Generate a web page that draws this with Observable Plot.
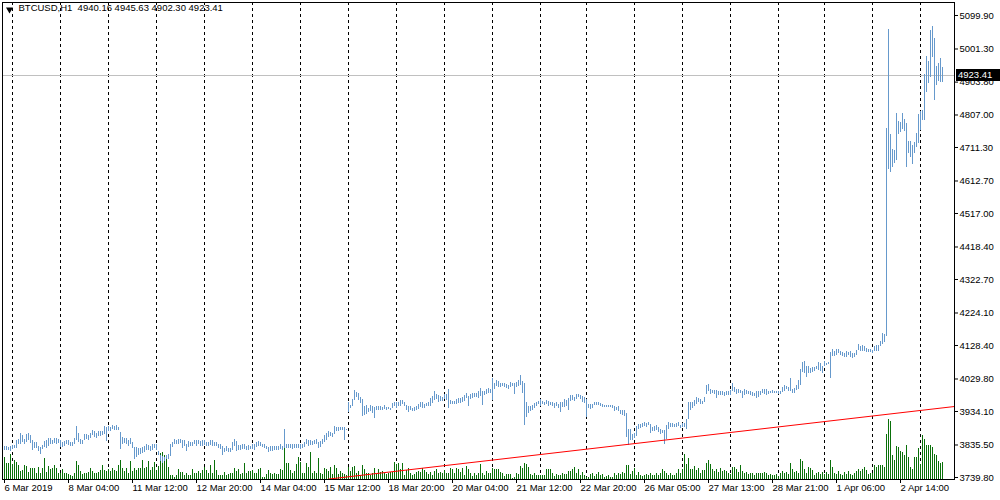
<!DOCTYPE html>
<html><head><meta charset="utf-8">
<script src="https://cdn.jsdelivr.net/npm/d3@7"></script>
<script src="https://cdn.jsdelivr.net/npm/@observablehq/plot@0.6"></script>
<style>html,body{margin:0;padding:0;background:#fff;overflow:hidden}#chart{width:1000px;height:500px}</style>
</head><body><div id="chart"></div>
<script>
// ---------------- data ----------------
const symbol = "BTCUSD,H1";
const lastBar = {open: 4940.16, high: 4945.63, low: 4902.30, close: 4923.41};

// trading days shown and number of H1 bars in each (weekends absent)
const days = [["6 Mar",4],["7 Mar",24],["8 Mar",24],["11 Mar",24],["12 Mar",24],["13 Mar",24],["14 Mar",24],["15 Mar",24],
  ["18 Mar",24],["19 Mar",24],["20 Mar",24],["21 Mar",24],["22 Mar",23],["25 Mar",24],["26 Mar",24],["27 Mar",24],
  ["28 Mar",24],["29 Mar",23],["1 Apr",24],["2 Apr",24],["3 Apr",12]];

const high = [
3830,3830,3828,3832,
3834,3834,3850,3852,3868,3864,3852,3866,3870,3862,3850,3842,3842,3830,3828,3834,3846,3848,3854,3856,3848,3854,3854,3852,
3848,3844,3846,3850,3848,3842,3844,3854,3890,3870,3852,3850,3866,3866,3862,3868,3878,3874,3870,3874,3876,3876,3890,3886,
3890,3886,3892,3890,3892,3888,3872,3858,3856,3856,3848,3856,3842,3828,3828,3826,3824,3828,3830,3836,3834,3832,3836,3838,
3838,3816,3806,3802,3800,3806,3808,3838,3842,3852,3850,3852,3852,3848,3848,3838,3846,3842,3844,3848,3848,3848,3846,3848,
3848,3842,3844,3848,3848,3842,3844,3838,3836,3830,3824,3830,3826,
3826,3842,3852,3846,3834,3834,3836,3838,3832,3834,
3832,3836,3836,3844,3846,3844,3838,3836,3832,3828,
3830,3832,3830,3832,3832,3836,3832,3882,3838,3836,
3838,3836,3836,3836,3838,3838,3836,3842,3852,3848,
3848,3846,3850,3852,3842,3846,3852,3862,3870,3876,
3872,3868,3890,3886,3886,3888,3886,3888,3882,3962,
3952,3968,3996,3990,3986,3974,3970,3948,3952,3944,
3952,3950,3946,3948,3948,3948,3946,3952,3946,3946,
3944,3958,3962,3960,3962,3966,3966,3960,3952,3948,
3948,3944,3946,3948,3954,3962,3960,3954,3958,3962,
3972,3978,3992,3984,3982,3978,3976,3984,3984,4000,
3966,3964,3964,3968,
3972,3972,3976,3982,3988,3978,3984,3988,3988,3988,
3992,4002,3994,3994,3998,4002,3998,4030,4018,4026,
4022,4018,4018,4018,4014,4012,4020,4018,4018,4020,
4024,4040,4022,4018,3960,3950,3948,3952,3958,3962,
3964,3968,3964,3962,3966,3964,3962,3962,3958,3960,
3956,3962,3962,3968,3966,3972,3982,3980,3976,3984,
3984,3982,3978,3974,3970,3954,3954,3956,3962,3960,
3960,3958,3956,3952,3952,3952,3952,3952,3950,3946,
3948,3938,3936,3936,3928,3880,3882,3866,3870,3890,
3896,3896,3898,3902,3900,3902,3896,3888,3890,3892,
3886,3880,3878,3878,3892,3902,3898,3900,3896,3900,
3902,3894,3898,3900,
3912,3960,3962,3962,3966,3974,3972,3968,3964,3974,
4012,4014,4000,3996,3996,3996,3994,3992,3994,3990,
3994,3992,3996,4018,4006,4000,4000,3996,3992,3998,
3996,3994,3992,3990,3988,3992,3992,3994,3998,4000,
3998,3994,3994,3996,3994,3994,3992,3994,4006,4010,
4008,4006,4032,3998,4002,4010,4024,4058,4078,4082,
4068,4066,4062,4064,4064,4066,4078,4076,4066,4080,
4076,4078,4108,4118,4112,4116,4118,4110,4108,4106,
4110,4108,4110,4106,4106,4114,4130,4126,4128,4126,
4120,4118,4116,4114,4126,4128,4128,4140,4164,4162,
4766,
5058,4751,4706,4702,4810,4789,4785,4810,4795,4781,
4730,4728,4718,4726,4753,4808,4818,4820,4926,4979,
4965,5056,5067,5032,4950,4958,4973,4945.63];

const low = [
3818,3820,3818,3816,
3822,3824,3826,3836,3838,3842,3838,3844,3848,3840,3820,3826,3824,3816,3808,3822,3828,3824,3830,3838,3836,3840,3838,3840,
3828,3828,3830,3836,3834,3830,3832,3836,3848,3844,3836,3836,3848,3852,3848,3854,3862,3858,3856,3860,3860,3864,3866,3846,
3876,3876,3880,3878,3878,3878,3822,3838,3840,3836,3830,3836,3826,3794,3798,3804,3808,3810,3812,3818,3818,3816,3818,3826,
3818,3804,3788,3782,3786,3792,3792,3802,3828,3836,3838,3838,3840,3826,3832,3816,3828,3830,3832,3836,3830,3836,3832,3830,
3834,3832,3832,3834,3832,3832,3830,3826,3822,3804,3812,3816,3812,
3812,3818,3832,3816,3818,3820,3822,3822,3818,3820,
3822,3822,3820,3828,3832,3830,3828,3826,3822,3814,
3816,3816,3818,3820,3818,3822,3818,3824,3824,3824,
3826,3822,3826,3824,3824,3822,3826,3828,3836,3832,
3834,3834,3836,3838,3826,3828,3836,3844,3850,3858,
3860,3858,3866,3874,3876,3878,3878,3850,3878,3930,
3942,3948,3966,3974,3966,3958,3920,3922,3926,3932,
3934,3928,3914,3936,3936,3938,3938,3940,3938,3940,
3938,3942,3948,3942,3948,3950,3954,3948,3936,3932,
3936,3934,3934,3936,3940,3946,3942,3942,3948,3950,
3950,3958,3966,3968,3962,3964,3964,3968,3966,3942,
3954,3956,3954,3954,
3958,3958,3960,3964,3972,3948,3968,3972,3974,3976,
3972,3978,3952,3982,3984,3988,3988,3966,4000,4008,
4004,4006,4008,4006,4002,4000,4006,4008,3984,4006,
4008,4012,3988,3894,3916,3928,3934,3936,3942,3948,
3954,3950,3954,3952,3956,3950,3952,3948,3944,3950,
3942,3930,3946,3946,3950,3936,3964,3966,3964,3968,
3974,3968,3962,3958,3916,3944,3940,3942,3952,3952,
3952,3950,3946,3946,3946,3946,3946,3944,3934,3936,
3934,3924,3922,3918,3858,3834,3848,3848,3854,3860,
3882,3884,3886,3890,3886,3892,3868,3876,3874,3878,
3872,3866,3868,3838,3852,3882,3886,3888,3888,3886,
3890,3884,3886,3886,
3882,3910,3936,3944,3948,3954,3960,3956,3954,3960,
3984,3992,3984,3986,3984,3972,3982,3982,3980,3978,
3982,3980,3980,3994,3990,3984,3988,3986,3972,3980,
3984,3984,3980,3978,3978,3972,3976,3982,3986,3984,
3980,3984,3988,3986,3986,3988,3984,3984,3990,3992,
3998,3994,3992,3986,3986,3996,3998,4012,4050,4046,
4034,4046,4046,4050,4052,4058,4056,4052,4046,4066,
4070,4072,4032,4096,4096,4100,4104,4098,4096,4094,
4092,4098,4094,4090,4092,4098,4114,4110,4112,4110,
4108,4108,4108,4106,4112,4110,4110,4124,4132,4136,
4154,
4648,4639,4653,4663,4673,4751,4755,4765,4759,4653,
4695,4681,4661,4693,4710,4724,4761,4791,4791,4873,
4901,4918,4977,4850,4895,4905,4903,4902.30];

// tick volume (hundreds of ticks)
const volume = [
65,49,49,75,45,57,51,41,25,27,43,39,21,33,33,33,19,37,17,33,
63,21,39,29,33,41,33,19,17,29,19,17,15,13,9,17,55,43,23,15,
19,19,21,33,25,19,19,21,27,41,27,25,31,25,33,27,23,41,57,33,
23,33,19,53,23,33,27,33,33,57,33,37,53,27,37,51,27,39,77,81,
71,59,37,13,13,7,13,29,21,21,11,17,11,13,29,19,17,25,19,27,
37,27,17,41,17,57,27,13,13,13,21,13,15,
17,17,33,25,31,15,19,49,17,23,25,27,19,17,29,33,5,7,15,27,
19,15,19,15,15,31,27,103,49,49,27,19,23,45,67,51,19,17,47,37,
81,17,25,17,63,19,15,33,31,25,35,15,41,33,15,25,17,15,13,35,
25,37,39,17,23,13,41,31,19,17,13,19,33,15,29,21,23,17,15,19,
21,21,51,45,47,29,49,13,27,33,17,13,15,21,23,21,33,27,21,15,
21,13,25,31,17,21,17,27,17,19,33,31,19,33,
30,21,33,13,39,31,17,9,17,13,17,45,17,13,25,17,17,33,29,31,
31,21,19,9,15,15,15,3,5,17,15,39,33,49,45,35,15,11,17,11,
11,11,11,13,29,29,29,17,9,15,13,11,17,15,15,23,23,31,37,17,
29,11,21,13,5,7,15,17,9,15,21,11,15,7,9,13,7,5,17,13,
17,15,21,17,43,43,15,23,33,13,21,13,9,13,15,11,19,11,13,19,
11,17,29,25,19,13,17,13,13,19,31,17,31,75,
45,63,29,29,39,27,33,17,27,27,47,57,45,31,23,31,21,33,23,27,
25,17,15,35,37,29,21,41,23,17,21,15,19,17,11,17,19,19,19,21,
19,11,15,11,13,15,9,17,23,17,21,15,47,31,21,25,17,59,53,31,
17,37,33,27,13,17,21,15,21,15,21,15,57,37,19,15,23,15,13,21,
15,25,15,13,17,23,31,25,29,35,27,15,19,17,41,37,41,41,41,37,
135,179,175,73,57,99,97,85,81,73,103,67,35,31,65,65,93,45,131,119,
103,103,103,95,75,73,53,49,51];

const yTicks = [3739.8,3835.5,3934.1,4029.8,4128.4,4224.1,4322.7,4418.4,4517.0,4612.7,4711.3,4807.0,4903.8,5001.3,5099.9];
const xTickLabels = ["6 Mar 2019","8 Mar 04:00","11 Mar 12:00","12 Mar 20:00","14 Mar 04:00","15 Mar 12:00",
  "18 Mar 20:00","20 Mar 04:00","21 Mar 12:00","22 Mar 20:00","26 Mar 05:00","27 Mar 13:00","28 Mar 21:00",
  "1 Apr 06:00","2 Apr 14:00"];
const trendline = [{bar: 162, price: 3735.1}, {bar: 475, price: 3948.8}];

// ---------------- build ----------------
if (high.length !== low.length || high.length !== volume.length) console.error("length mismatch", high.length, low.length, volume.length);
const bars = high.map((h, i) => ({i, high: h, low: low[i], vol: volume[i]}));
let acc = 0;
const dayStarts = days.map(([, c]) => { const s = acc; acc += c; return s; }).slice(1);
const xTicks = xTickLabels.map((_, k) => k * 32);
const labelAt = new Map(xTicks.map((t, k) => [t, xTickLabels[k]]));

const yMin = 3733.91, yMax = 5138.17;
const W = 1000, H = 500, mT = 2, mB = 21, mL = 2, mR = 46;
const volK = (yMax - yMin) / (H - mT - mB) / 3; // price units per volume unit
const blue = "#6699cc", green = "#0a700a";
const font = "'Liberation Sans', Arial, sans-serif";

const plot = Plot.plot({
  width: W, height: H,
  marginTop: mT, marginBottom: mB, marginLeft: mL, marginRight: mR,
  x: {type: "linear", domain: [-1, 475], axis: null},
  y: {domain: [yMin, yMax], axis: null},
  style: {fontFamily: font, fontSize: "9.5px", background: "#fff", color: "#000", overflow: "visible"},
  marks: [
    Plot.ruleX(dayStarts, {x: d => d, stroke: "#000", strokeDasharray: "3,3", shapeRendering: "crispEdges"}),
    Plot.ruleY([lastBar.close], {stroke: "#c0c0c0", shapeRendering: "crispEdges"}),
    Plot.ruleX(bars, {x: "i", y1: yMin, y2: d => yMin + d.vol * volK, stroke: green, shapeRendering: "crispEdges"}),
    Plot.ruleX(bars, {x: "i", y1: "low", y2: "high", stroke: blue, shapeRendering: "crispEdges"}),
    Plot.line(trendline, {x: "bar", y: "price", stroke: "#ff0000", strokeWidth: 1, clip: true}),
    Plot.frame({stroke: "#000", shapeRendering: "crispEdges"}),
    Plot.axisY(yTicks, {anchor: "right", tickSize: 3, tickPadding: 2, tickFormat: d => d.toFixed(2), fill: "#000", stroke: "#000"}),
    Plot.axisX(xTicks, {anchor: "bottom", tickSize: 4, tickPadding: 1, textAnchor: "start", dx: 0, tickFormat: d => labelAt.get(d), fill: "#000", stroke: "#000"}),
    Plot.dot([0], {frameAnchor: "top-left", dx: 7, dy: 7, symbol: "triangle", r: 2.6, rotate: 180, fill: "#000", stroke: "none"}),
    Plot.text([`${symbol}\u00a0\u00a0${lastBar.open.toFixed(2)} ${lastBar.high.toFixed(2)} ${lastBar.low.toFixed(2)} ${lastBar.close.toFixed(2)}`],
      {frameAnchor: "top-left", dx: 16, dy: 2, text: d => d, textAnchor: "start", lineAnchor: "top", fill: "#000"})
  ]
});
document.getElementById("chart").appendChild(plot);

// current price tag on the right axis (covers the axis label beneath it, as in the terminal)
const yPos = plot.scale("y").apply(lastBar.close);
const tag = d3.select(plot).append("g");
tag.append("rect").attr("x", W - mR + 2).attr("y", Math.round(yPos) - 6).attr("width", 44).attr("height", 12).attr("fill", "#000");
tag.append("text").attr("x", W - mR + 4).attr("y", yPos).attr("dy", "0.35em").attr("fill", "#fff")
  .attr("text-anchor", "start").style("font", `9.5px ${font}`).text(lastBar.close.toFixed(2));
</script>
</body></html>
